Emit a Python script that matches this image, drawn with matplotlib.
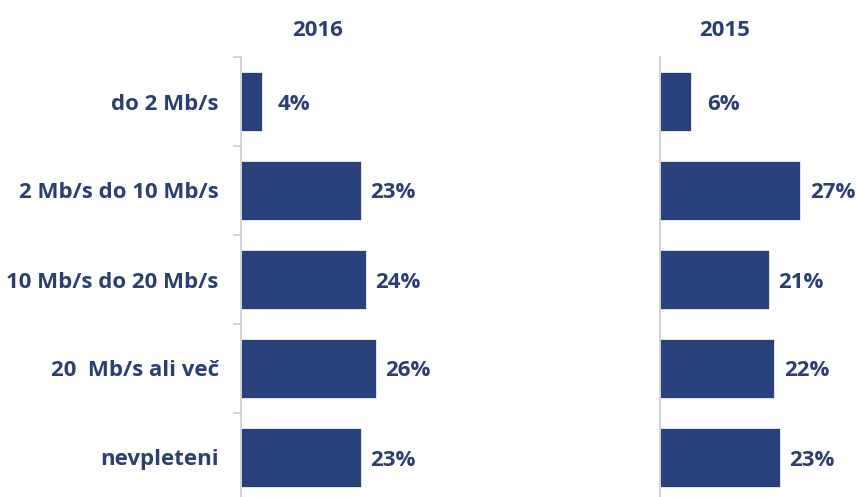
import numpy as np
import matplotlib.pyplot as plt

# podatki
kategorije = ['do 2 Mb/s', '2 Mb/s do 10 Mb/s', '10 Mb/s do 20 Mb/s', '20  Mb/s ali več', 'nevpleteni']
leto_2016 = [4, 23, 24, 26, 23]
leto_2015 = [6, 27, 21, 22, 23]

barva = '#29417A'
besedilo = '#2B3F73'
plt.rcParams['font.family'] = ['Open Sans', 'DejaVu Sans']
plt.rcParams['font.weight'] = 'bold'
fs = 16

fig = plt.figure(figsize=(8.56, 4.97), dpi=100)
W, H = 856, 497
y = np.arange(len(kategorije))

def panel(x0, vrednosti, naslov, nx, oznake):
    ax = fig.add_axes([x0 / W, -5 / H, 156 / W, 445 / H])
    ax.barh(y, vrednosti, height=0.67, color=barva, edgecolor='white', linewidth=0.5)
    ax.set_xlim(0, 30)
    ax.set_ylim(len(kategorije) - 0.5, -0.5)
    for s in ['top', 'right', 'bottom']:
        ax.spines[s].set_visible(False)
    ax.spines['left'].set_color('#D0D0D0')
    ax.spines['left'].set_linewidth(1.3)
    ax.set_xticks([])
    ax.set_yticks(y)
    if oznake:
        ax.set_yticklabels(kategorije, fontsize=fs, fontweight='bold', color=besedilo,
                           va='center_baseline')
        ax.tick_params(axis='y', which='major', length=0, pad=16)
        ax.set_yticks(np.arange(-0.5, len(kategorije)), minor=True)
        ax.tick_params(axis='y', which='minor', length=6, width=1.3, color='#D0D0D0')
    else:
        ax.set_yticklabels([])
        ax.tick_params(axis='y', length=0)
    for yi, v in zip(y, vrednosti):
        ax.annotate(f'{v}%', (v, yi), xytext=(32, 0), textcoords='offset pixels',
                    ha='center', va='center_baseline', fontsize=fs, fontweight='bold',
                    color=besedilo)
    fig.text(nx / W, 1 - 28 / H, naslov, ha='center', va='center_baseline',
             fontsize=fs, fontweight='bold', color=besedilo)

panel(241, leto_2016, '2016', 318, True)
panel(660, leto_2015, '2015', 725, False)

fig.savefig('out.png', dpi=100)
